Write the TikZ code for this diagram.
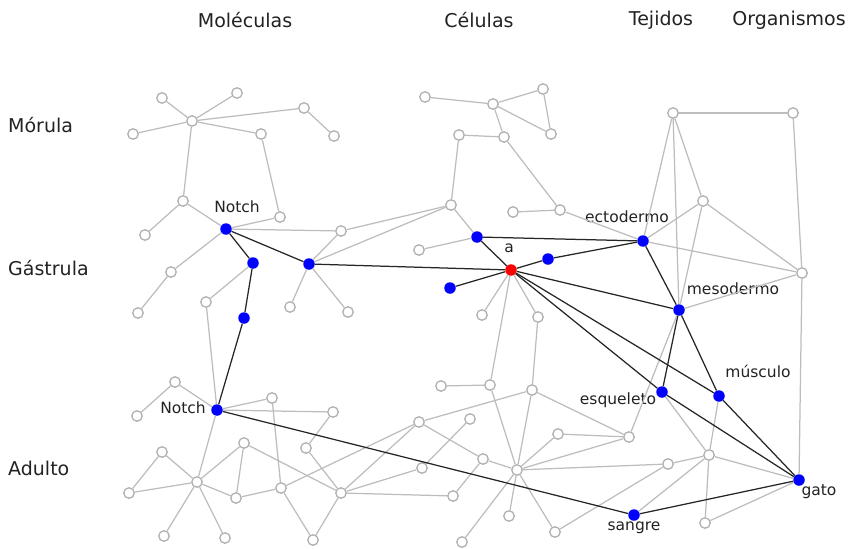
\documentclass[tikz,border=0pt]{standalone}
\usepackage{fontspec}
\setmainfont{DejaVu Sans}
\definecolor{edgegray}{HTML}{BDBDBD}
\definecolor{nodegray}{HTML}{B0B0B0}
\definecolor{txt}{HTML}{222222}
\begin{document}
\begin{tikzpicture}[x=1pt,y=-1pt,
  v/.style={circle,draw=nodegray,fill=white,line width=1.3pt,inner sep=0pt,minimum size=10.5pt},
  bn/.style={circle,fill=blue,inner sep=0pt,minimum size=11.5pt},
  rn/.style={circle,fill=red,inner sep=0pt,minimum size=11.5pt},
  ge/.style={draw=edgegray,line width=1.25pt},
  be/.style={draw=black!85,line width=1.25pt},
  hdr/.style={text=txt,font=\fontsize{19}{22}\selectfont,inner sep=0pt},
  lbl/.style={text=txt,font=\fontsize{15.5}{18}\selectfont,inner sep=0pt}]
\useasboundingbox (0,0) rectangle (852,549);
% headers
\node[hdr] (hMol) at (245,20) {Moléculas};
\node[hdr] (hCel) at (479,20) {Células};
\node[hdr] (hTej) at (661,20) {Tejidos};
\node[hdr] (hOrg) at (789,20) {Organismos};
\node[hdr,anchor=west] (rMor) at (8,125) {Mórula};
\node[hdr,anchor=west] (rGas) at (8,268) {Gástrula};
\node[hdr,anchor=west] (rAdu) at (8,468) {Adulto};
% Moleculas nodes
\node[v] (m1) at (192,121) {};
\node[v] (m2) at (162,98) {};
\node[v] (m3) at (237,93) {};
\node[v] (m4) at (133,134) {};
\node[v] (m5) at (261,134) {};
\node[v] (m6) at (304,108) {};
\node[v] (m7) at (334,136) {};
\node[v] (m8) at (183,201) {};
\node[v] (m9) at (280,217) {};
\node[bn] (N1) at (226,229) {};
\node[v] (m10) at (145,235) {};
\node[v] (m11) at (341,231) {};
\node[bn] (b1) at (253,263) {};
\node[bn] (b2) at (309,264) {};
\node[v] (m12) at (171,272) {};
\node[v] (m13) at (138,313) {};
\node[v] (m14) at (206,302) {};
\node[bn] (b3) at (244,318) {};
\node[v] (m15) at (290,307) {};
\node[v] (m16) at (348,312) {};
\node[bn] (N2) at (217,410) {};
\node[v] (m17) at (175,382) {};
\node[v] (m18) at (137,416) {};
\node[v] (m19) at (272,398) {};
\node[v] (m20) at (333,412) {};
\node[v] (m21) at (244,443) {};
\node[v] (m22) at (306,448) {};
\node[v] (m23) at (162,452) {};
\node[v] (m24) at (197,482) {};
\node[v] (m25) at (129,493) {};
\node[v] (m26) at (236,498) {};
\node[v] (m27) at (281,488) {};
\node[v] (m28) at (341,493) {};
\node[v] (m29) at (164,536) {};
\node[v] (m30) at (225,538) {};
\node[v] (m31) at (313,540) {};
% Celulas nodes
\node[v] (c1) at (425,97) {};
\node[v] (c2) at (493,104) {};
\node[v] (c3) at (543,89) {};
\node[v] (c4) at (551,134) {};
\node[v] (c5) at (459,135) {};
\node[v] (c6) at (504,137) {};
\node[v] (c7) at (451,205) {};
\node[v] (c8) at (513,212) {};
\node[v] (c9) at (560,210) {};
\node[bn] (b4) at (477,237) {};
\node[v] (c10) at (419,250) {};
\node[rn] (A) at (511,270) {};
\node[bn] (b5) at (548,259) {};
\node[bn] (b6) at (450,288) {};
\node[v] (c11) at (482,315) {};
\node[v] (c12) at (538,317) {};
\node[v] (c13) at (441,386) {};
\node[v] (c14) at (490,385) {};
\node[v] (c15) at (532,390) {};
\node[v] (c16) at (419,422) {};
\node[v] (c17) at (470,419) {};
\node[v] (c18) at (558,434) {};
\node[v] (c19) at (483,459) {};
\node[v] (c20) at (422,468) {};
\node[v] (c21) at (517,470) {};
\node[v] (c22) at (453,496) {};
\node[v] (c23) at (509,516) {};
\node[v] (c24) at (555,532) {};
\node[v] (c25) at (462,542) {};
% Tejidos / Organismos nodes
\node[v] (t1) at (673,113) {};
\node[v] (t2) at (793,113) {};
\node[v] (t3) at (703,201) {};
\node[bn] (ecto) at (643,241) {};
\node[v] (t4) at (802,273) {};
\node[bn] (meso) at (679,310) {};
\node[bn] (esq) at (662,392) {};
\node[bn] (mus) at (719,396) {};
\node[v] (t5) at (629,437) {};
\node[v] (t6) at (668,464) {};
\node[v] (t7) at (709,455) {};
\node[v] (t8) at (705,523) {};
\node[bn] (sang) at (634,515) {};
\node[bn] (gato) at (799,480) {};
% labels
\node[lbl] (lN1) at (237,207) {Notch};
\node[lbl] (lN2) at (183,408) {Notch};
\node[lbl] (lA) at (509,248) {a};
\node[lbl] (lecto) at (627,217) {ectodermo};
\node[lbl] (lmeso) at (733,289) {mesodermo};
\node[lbl] (lmus) at (758,371) {músculo};
\node[lbl] (lesq) at (618,400) {esqueleto};
\node[lbl] (lsang) at (634,528) {sangre};
\node[lbl] (lgato) at (819,492) {gato};
% gray edges
\foreach \a/\b in {m1/m2,m1/m3,m1/m4,m1/m5,m1/m6,m6/m7,m1/m8,m5/m9,m8/N1,m8/m10,N1/m9,N1/m11,m11/b2,m11/c7,b2/c7,N1/m12,m12/m13,b1/m14,m14/N2,b2/m15,b2/m16,
  N2/m17,m17/m18,N2/m19,N2/m20,N2/m24,m19/m27,m20/m22,m22/m28,m24/m23,m24/m25,m24/m21,m24/m26,m24/m29,m24/m30,m23/m25,m21/m26,m21/m28,m26/m27,m27/m31,m28/m31,m27/c16,m28/c16,m28/c20,m28/c22,
  c1/c2,c2/c3,c3/c4,c2/c4,c2/c6,c5/c6,c5/c7,c6/c9,c8/c9,c9/ecto,c7/b4,b4/c10,
  A/c11,A/c12,A/c14,c13/c14,c14/c21,c12/c15,c15/c21,c15/c16,c15/t5,c16/c19,c17/c20,c19/c21,c19/c22,c21/c23,c21/c25,c21/c24,c21/c18,c21/t5,c21/t6,c18/t5,t5/meso,c24/t6,t6/t7,sang/t7,esq/t7,mus/t7,t7/t8,t7/gato,t8/gato,
  t1/t2,t1/ecto,t1/t3,t1/meso,t2/t4,t3/ecto,t3/t4,t3/meso,ecto/t4,t4/meso,t4/gato}
  {\draw[ge] (\a) -- (\b);}
% black edges
\foreach \a/\b in {N1/b1,b1/b3,b3/N2,N2/sang,sang/gato,N1/b2,b2/A,A/b4,b4/ecto,A/b5,b5/ecto,A/b6,A/meso,A/esq,A/mus,ecto/meso,meso/esq,meso/mus,esq/gato,mus/gato}
  {\draw[be] (\a) -- (\b);}
\end{tikzpicture}
\end{document}
